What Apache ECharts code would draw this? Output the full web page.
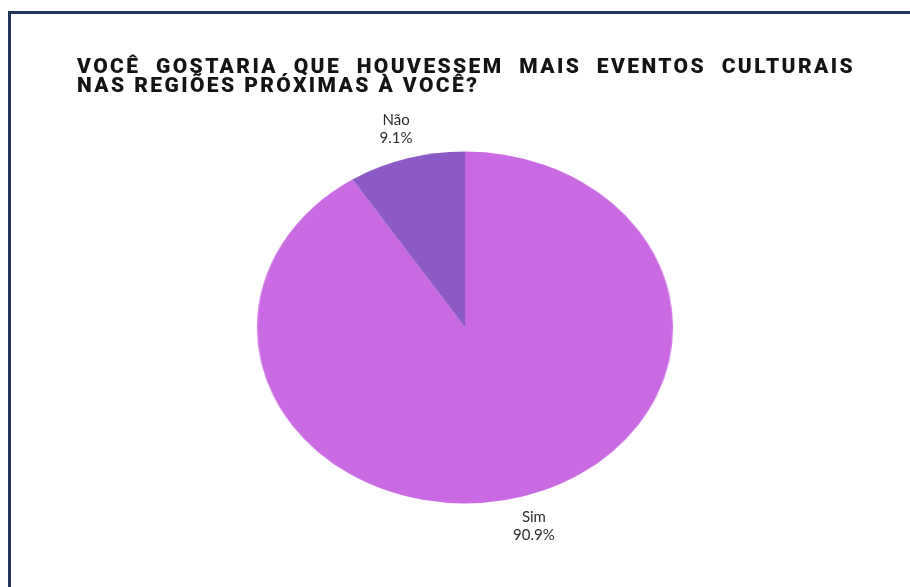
<!DOCTYPE html>
<html>
<head>
<meta charset="utf-8">
<script src="https://cdn.jsdelivr.net/npm/echarts@6/dist/echarts.min.js"></script>
<style>
  html, body { margin: 0; padding: 0; background: #ffffff; }
  #stage { position: relative; width: 910px; height: 587px; overflow: hidden; background: #ffffff; }
  #frame {
    position: absolute; left: 8px; top: 11px; width: 920px; height: 600px;
    border-top: 3px solid #1f3558; border-left: 3px solid #1f3558; box-sizing: border-box;
  }
  .title {
    position: absolute; left: 77px;
    font-family: Roboto, "Noto Sans", sans-serif; font-weight: 900; font-size: 21px;
    line-height: 19px; color: #141414; letter-spacing: 2.4px; white-space: nowrap;
  }
  #title1 { top: 57px; width: 778px; text-align: justify; text-align-last: justify; white-space: normal; }
  #title2 { top: 76px; }
  #pie { position: absolute; left: 0; top: 0; width: 910px; height: 587px; }
  #labels { position: absolute; left: 0; top: 0; width: 910px; height: 587px; }
</style>
</head>
<body>
<div id="stage">
  <div id="frame"></div>
  <div id="pie"></div>
  <div id="labels"></div>
  <div class="title" id="title1"></div>
  <div class="title" id="title2"></div>
</div>
<script>
// Survey answers and their shares
const titleLines = ['VOCÊ GOSTARIA QUE HOUVESSEM MAIS EVENTOS CULTURAIS', 'NAS REGIÕES PRÓXIMAS À VOCÊ?'];
const categories = ['Sim', 'Não'];
const values = [90.9, 9.1];

// Palette for the slices
const sliceColors = ['#c96ae3', '#8c5ac4'];

// Pie geometry: an ellipse wider than tall
const CX = 465, CY = 327.5;
const RY = 176, RX = 208;
const SX = RX / RY;

document.getElementById('title1').textContent = titleLines[0];
document.getElementById('title2').textContent = titleLines[1];

const pieData = categories.map((name, i) => ({ name, value: values[i] }));

// The pie is drawn round and stretched horizontally into an ellipse
const pieEl = document.getElementById('pie');
pieEl.style.transformOrigin = CX + 'px ' + CY + 'px';
pieEl.style.transform = 'scaleX(' + SX + ')';

const pieChart = echarts.init(pieEl, null, { renderer: 'canvas' });
pieChart.setOption({
  animation: false,
  color: sliceColors,
  series: [{
    type: 'pie',
    center: [CX, CY],
    radius: RY,
    startAngle: 90,
    clockwise: true,
    label: { show: false },
    labelLine: { show: false },
    emphasis: { disabled: true },
    itemStyle: { borderWidth: 0 },
    data: pieData
  }]
});

// Labels are laid out on an unstretched layer, then pushed out horizontally
// by the same factor so they sit beside the elliptical slices.
const labelChart = echarts.init(document.getElementById('labels'), null, { renderer: 'canvas' });
labelChart.setOption({
  animation: false,
  series: [{
    type: 'pie',
    center: [CX, CY],
    radius: [RY * 1.11, RY * 1.205],
    startAngle: 90,
    clockwise: true,
    silent: true,
    itemStyle: { color: 'rgba(0,0,0,0)', borderWidth: 0 },
    label: {
      show: true,
      position: 'inside',
      formatter: '{b}\n{d}%',
      color: '#2e2e2e',
      fontFamily: 'Lato, "Open Sans", sans-serif',
      fontSize: 15,
      lineHeight: 18,
      align: 'center'
    },
    labelLine: { show: false },
    labelLayout: function (p) {
      const mid = p.labelRect.x + p.labelRect.width / 2;
      return { dx: (mid - CX) * (SX - 1) };
    },
    data: pieData
  }]
});
</script>
</body>
</html>
